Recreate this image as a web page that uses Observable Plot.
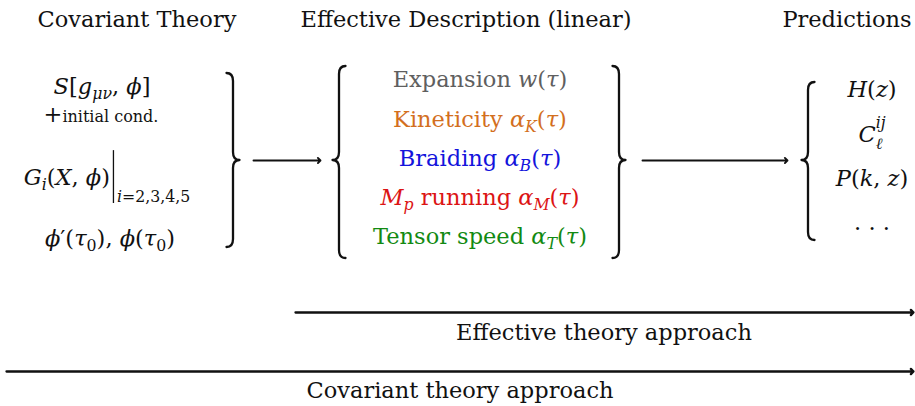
<!DOCTYPE html>
<html>
<head>
<meta charset="utf-8">
<script src="https://cdn.jsdelivr.net/npm/d3@7"></script>
<script src="https://cdn.jsdelivr.net/npm/@observablehq/plot@0.6"></script>
<style>
  html, body { margin: 0; padding: 0; background: #fff; }
</style>
</head>
<body>
<div id="chart"></div>
<script>
// ---------- content (text only) ----------
const headers = ["Covariant Theory", "Effective Description (linear)", "Predictions"];
const covariantInputs = [
  "$S[g_{μν}, ϕ]$",
  "$+$initial cond.",
  "$G_i(X, ϕ)|_{i=2,3,4,5}$",
  "$ϕ′(τ_0),$ $ϕ(τ_0)$"
];
const effectiveParams = [
  "Expansion $w(τ)$",
  "Kineticity $α_K(τ)$",
  "Braiding $α_B(τ)$",
  "$M_p$ running $α_M(τ)$",
  "Tensor speed $α_T(τ)$"
];
const paramColors = ["#5f5f5f", "#d36f1e", "#1414dc", "#dc1414", "#128a12"];
const predictions = ["$H(z)$", "$C_ℓ^{ij}$", "$P(k, z)$", ". . ."];
const approaches = ["Effective theory approach", "Covariant theory approach"];

// ---------- layout (pixel positions in the 915 x 406 frame) ----------
const headerX = [137, 466, 847], headerY = 27;
const covariantX = [102, 101, 107, 110], covariantY = [94, 122, 185, 246], covariantSize = [22.5, 16, 22.5, 22.5];
const effectiveX = 480, effectiveY = [87, 127, 166, 205, 244];
const predictionX = 872, predictionY = [97, 142, 186, 230];
const approachX = [604, 460], approachY = [340, 398];
const arrows = [
  {x1: 253, x2: 320, y: 160, w: 1.9},
  {x1: 642, x2: 787, y: 160, w: 1.9},
  {x1: 295, x2: 913, y: 312, w: 2.3},
  {x1: 6, x2: 913, y: 371, w: 2.3}
];
const braces = [
  {x: 233, top: 73, bottom: 247, mid: 160, dir: 1},
  {x: 339, top: 66, bottom: 258, mid: 160, dir: -1},
  {x: 619, top: 66, bottom: 258, mid: 160, dir: 1},
  {x: 808, top: 82, bottom: 240, mid: 160, dir: -1}
];
const FS = 22.5;
const FONT = "DejaVu Serif";

// ---------- rich text (minimal TeX-like markup) ----------
const ctx = document.createElement("canvas").getContext("2d");
function measure(text, italic, size) {
  ctx.font = `${italic ? "italic " : ""}${size}px "${FONT}"`;
  return ctx.measureText(text).width;
}
const isLetter = (c) => /[A-Za-zα-ωϕℓ]/.test(c);
function parseRich(str) {
  const runs = [];
  let math = false, i = 0;
  while (i < str.length) {
    const c = str[i];
    if (c === "$") { math = !math; i++; continue; }
    if (math && (c === "_" || c === "^")) {
      let content;
      if (str[i + 1] === "{") { const j = str.indexOf("}", i + 2); content = str.slice(i + 2, j); i = j + 1; }
      else { content = str[i + 1]; i += 2; }
      const level = c === "_" ? -1 : 1;
      for (const ch of content) runs.push({text: ch, italic: isLetter(ch), level, bar: false, math: true});
      continue;
    }
    if (math && c === "|") { runs.push({text: "", italic: false, level: 0, bar: true, math: true}); i++; continue; }
    runs.push({text: c, italic: math && isLetter(c), level: 0, bar: false, math});
    i++;
  }
  const merged = [];
  for (const r of runs) {
    const p = merged[merged.length - 1];
    if (p && !p.bar && !r.bar && p.italic === r.italic && p.level === r.level && p.math === r.math) p.text += r.text;
    else merged.push({...r});
  }
  return merged;
}
function drawRich(g, str, x, y, fs, color) {
  const runs = parseRich(str);
  const BAR_GAP = 7;
  // determine sizes, offsets and advances
  const hasSupAfterSub = runs.some((r, k) => k > 0 && r.level === 1 && runs[k - 1].level === -1);
  let total = 0, afterBar = false, prev = null;
  const plan = runs.map((r) => {
    let off = 0, size = r.math && r.level === 0 ? FS : fs, dx = 0;
    if (r.level === -1) { size = FS * 0.7; off = afterBar ? FS * 0.75 : (hasSupAfterSub ? FS * 0.3 : FS * 0.24); }
    if (r.level === 1) { size = FS * 0.7; off = hasSupAfterSub ? -FS * 0.62 : -FS * 0.45; }
    const w = r.bar ? 0 : measure(r.text, r.italic, size);
    if (prev && prev.r.level === -1 && r.level === 1) dx -= prev.w;
    if (prev && prev.r.bar) dx += BAR_GAP;
    const p = {r, size, off, w, dx, start: total + dx};
    total += dx + w;
    if (r.bar) afterBar = true; else if (r.level === 0) afterBar = false;
    prev = p;
    return p;
  });
  const x0 = x - total / 2;
  const t = g.append("text")
    .attr("x", x).attr("y", y)
    .attr("fill", color).attr("font-size", fs)
    .attr("text-anchor", "middle");
  let cur = 0;
  for (const p of plan) {
    if (p.r.bar) {
      const bx = x0 + p.start + BAR_GAP / 2;
      g.append("line")
        .attr("x1", bx).attr("x2", bx)
        .attr("y1", y - FS * 1.55).attr("y2", y + FS * 0.8)
        .attr("stroke", color).attr("stroke-width", 1.3);
      continue;
    }
    const ts = t.append("tspan").text(p.r.text).attr("font-size", p.size);
    if (p.off - cur !== 0) ts.attr("dy", p.off - cur);
    if (p.dx !== 0) ts.attr("dx", p.dx);
    if (p.r.italic) ts.attr("font-style", "italic");
    cur = p.off;
  }
}

const textRows = [
  ...headers.map((text, i) => ({text, x: headerX[i], y: headerY, size: FS, color: "#111"})),
  ...covariantInputs.map((text, i) => ({text, x: covariantX[i], y: covariantY[i], size: covariantSize[i], color: "#111"})),
  ...effectiveParams.map((text, i) => ({text, x: effectiveX, y: effectiveY[i], size: FS, color: paramColors[i]})),
  ...predictions.map((text, i) => ({text, x: predictionX, y: predictionY[i], size: FS, color: "#111"})),
  ...approaches.map((text, i) => ({text, x: approachX[i], y: approachY[i], size: FS, color: "#111"}))
];

function richTextMark(rows) {
  return (index, scales) => {
    const g = d3.create("svg:g").attr("font-family", FONT);
    for (const r of rows) drawRich(g, r.text, scales.x(r.x), scales.y(r.y), r.size, r.color);
    return g.node();
  };
}

function braceMark(list) {
  return (index, scales) => {
    const g = d3.create("svg:g").attr("fill", "none").attr("stroke", "#111")
      .attr("stroke-width", 2.3).attr("stroke-linecap", "round").attr("stroke-linejoin", "round");
    const h = 6.5, r = 8;
    for (const b of list) {
      const xs = scales.x(b.x), yt = scales.y(b.top), yb = scales.y(b.bottom), ym = scales.y(b.mid), d = b.dir;
      g.append("path").attr("d",
        `M${xs - d * h},${yt} Q${xs},${yt} ${xs},${yt + r} L${xs},${ym - r} ` +
        `Q${xs},${ym} ${xs + d * h},${ym} Q${xs},${ym} ${xs},${ym + r} ` +
        `L${xs},${yb - r} Q${xs},${yb} ${xs - d * h},${yb}`);
    }
    return g.node();
  };
}

const chart = Plot.plot({
  width: 915,
  height: 406,
  margin: 0,
  x: {domain: [0, 915], range: [0, 915], axis: null},
  y: {domain: [0, 406], range: [0, 406], axis: null},
  style: {background: "#fff", fontFamily: FONT, overflow: "visible"},
  marks: [
    Plot.arrow(arrows, {
      x1: "x1", x2: "x2", y1: "y", y2: "y",
      stroke: "#111", strokeWidth: "w",
      headAngle: 90, headLength: 5.5, insetStart: 0, insetEnd: 0
    }),
    braceMark(braces),
    richTextMark(textRows)
  ]
});
document.getElementById("chart").appendChild(chart);
</script>
</body>
</html>
